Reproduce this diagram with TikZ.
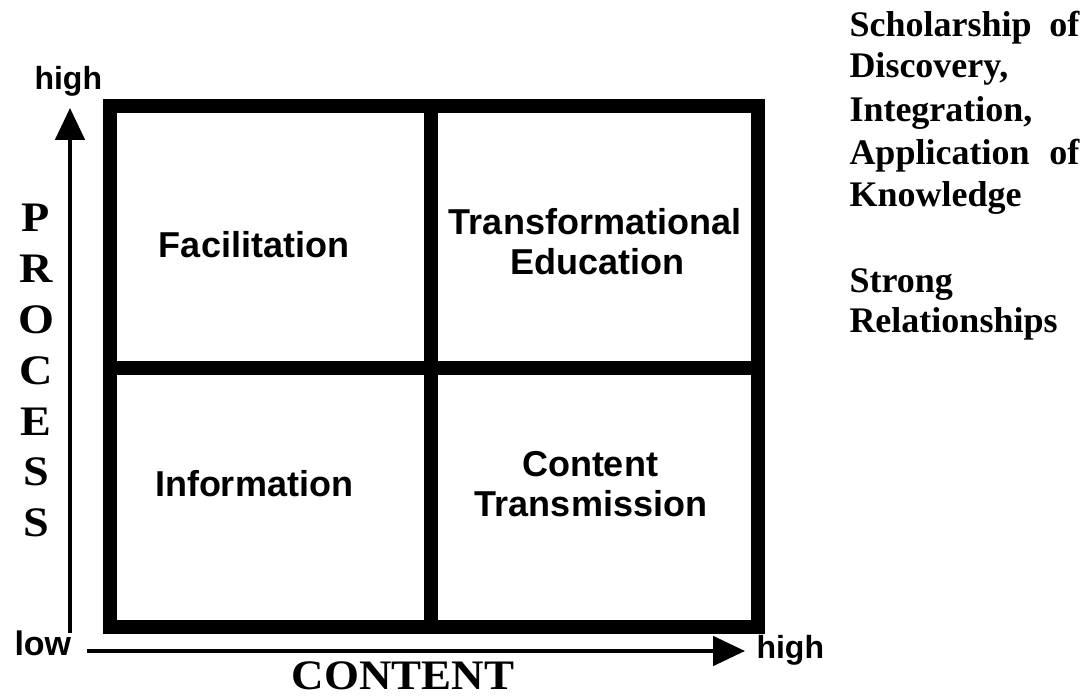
\documentclass[tikz,border=0pt]{standalone}
\usepackage{fontspec}
\setmainfont{Liberation Serif}
\setsansfont{Liberation Sans}
\usetikzlibrary{arrows.meta}

\tikzset{every picture/.style={line width=0.75pt}}
\tikzset{
  grid line/.style={line width=10.5pt},
  axis line/.style={line width=3pt, -{Triangle[length=24pt,width=22pt]}},
  cell label/.style={font=\sffamily\bfseries\fontsize{27}{30}\selectfont, inner sep=0.75pt, anchor=base},
  axis label/.style={font=\sffamily\bfseries\fontsize{24}{28}\selectfont, inner sep=0.75pt, anchor=base west},
  axis title/.style={font=\rmfamily\bfseries\fontsize{31.5}{36}\selectfont, inner sep=0.75pt, anchor=base},
  side note/.style={font=\rmfamily\bfseries\fontsize{27}{32}\selectfont, inner sep=0.75pt, anchor=base west},
}

\begin{document}
\begin{tikzpicture}[x=0.75pt,y=0.75pt,yscale=-1,xscale=1]
\useasboundingbox (0,0) rectangle (1086,698);

%Grid of the four quadrants
\draw [grid line] (109.5,106) rectangle (758,627);
\draw [grid line] (431,106) -- (431,627);
\draw [grid line] (109.5,368) -- (758,368);

%Axes
\coordinate (pbot) at (70,633);
\coordinate (ptop) at (70,108);
\coordinate (cleft) at (87,651);
\coordinate (cright) at (745,651);
\draw [axis line] (pbot) -- (ptop);
\draw [axis line] (cleft) -- (cright);

% Axis labels
\node [axis label] (phigh) at (33,90) {high};
\node [axis label, font=\sffamily\bfseries\fontsize{25.5}{28}\selectfont] (low) at (13,655) {low};
\node [axis label] (chigh) at (755,658) {high};

% Axis titles
\foreach \letter [count=\i] in {P,R,O,C,E,S,S}
  \node [axis title] (proc\i) at (36,{232+50.8*(\i-1)}) {\scalebox{1.1}[1]{\letter}};
\node [axis title] (content) at (403,689) {\scalebox{1.07}[1]{CONTENT}};

% Quadrant labels
\node [cell label] (facil) at (254,258) {Facilitation};
\node [cell label] (info) at (254,497) {Information};
\node [cell label] (transf) at (595,235) {Transformational};
\node [cell label] (educ) at (597,275) {Education};
\node [cell label] (cont) at (590,477) {Content};
\node [cell label] (transm) at (591,517) {Transmission};

% Side notes
\node [side note] (sch) at (848,37) {\makebox[172.5pt][s]{Scholarship of}};
\node [side note] (disc) at (848,78) {Discovery,};
\node [side note] (integ) at (848,122) {Integration,};
\node [side note] (appl) at (848,165) {\makebox[172.5pt][s]{Application of}};
\node [side note] (know) at (848,207) {Knowledge};
\node [side note] (strong) at (848,293) {Strong};
\node [side note] (rel) at (848,333) {Relationships};

\end{tikzpicture}
\end{document}
